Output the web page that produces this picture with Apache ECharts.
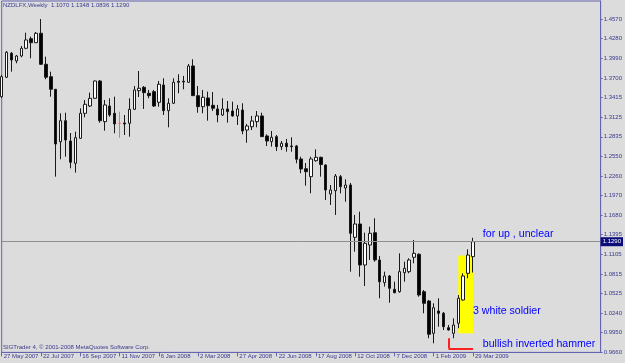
<!DOCTYPE html>
<html>
<head>
<meta charset="utf-8">
<script src="https://cdn.jsdelivr.net/npm/echarts@6.0.0/dist/echarts.min.js"></script>
<style>
html,body{margin:0;padding:0;background:#dcdcdc;}
#chart{width:625px;height:363px;}
</style>
</head>
<body>
<div id="chart"></div>
<script>
// ---- data (weekly bars from 27 May 2007) ----
const startDate = Date.UTC(2007, 4, 27);
const barCount = 97;
const padCount = 26; // empty chart-shift space on the right

const open = [
1.3426, 1.3712, 1.4065, 1.3952, 1.4025, 1.4139, 1.4280, 1.4221, 1.4360, 1.3903,
1.3720, 1.3535, 1.2763, 1.3072, 1.2773, 1.2445, 1.2813, 1.3181, 1.3289, 1.3402,
1.3657, 1.3058, 1.3289, 1.3181, 1.3034, 1.3039, 1.3034, 1.3240, 1.3514, 1.3564,
1.3476, 1.3500, 1.3343, 1.3598, 1.3220, 1.3329, 1.3653, 1.3653, 1.3638, 1.3878,
1.3441, 1.3279, 1.3407, 1.3299, 1.3245, 1.3156, 1.3245, 1.3215, 1.3142, 1.3230,
1.2935, 1.2984, 1.3058, 1.3142, 1.2847, 1.2763, 1.2837, 1.2690, 1.2740, 1.2700,
1.2700, 1.2508, 1.2365, 1.2248, 1.2483, 1.2533, 1.2420, 1.1993, 1.2042, 1.2248,
1.2081, 1.2125, 1.1355, 1.1551, 1.0947, 1.1242, 1.1423, 1.1021, 1.0687, 1.0785,
1.0589, 1.0554, 1.0834, 1.0849, 1.1061, 1.1105, 1.0554, 1.0417, 0.9941, 1.0270,
1.0236, 1.0024, 0.9941, 1.0089, 1.0432, 1.0825, 1.1070
];
const high = [
1.3745, 1.4099, 1.4084, 1.4040, 1.4173, 1.4368, 1.4310, 1.4379, 1.4570, 1.4015,
1.3794, 1.3539, 1.3181, 1.3190, 1.2891, 1.2910, 1.3255, 1.3377, 1.3485, 1.3664,
1.3672, 1.3377, 1.3402, 1.3426, 1.3205, 1.3156, 1.3402, 1.3583, 1.3804, 1.3583,
1.3525, 1.3525, 1.3657, 1.3697, 1.3402, 1.3697, 1.3756, 1.3731, 1.3907, 1.3977,
1.3583, 1.3525, 1.3500, 1.3495, 1.3304, 1.3402, 1.3363, 1.3352, 1.3304, 1.3329,
1.3024, 1.3142, 1.3215, 1.3190, 1.2872, 1.2921, 1.2862, 1.2773, 1.2803, 1.2828,
1.2715, 1.2542, 1.2449, 1.2542, 1.2651, 1.2542, 1.2430, 1.2125, 1.2287, 1.2273,
1.2209, 1.2155, 1.1684, 1.1732, 1.1423, 1.1511, 1.1635, 1.1080, 1.0849, 1.0800,
1.0701, 1.1119, 1.0996, 1.1046, 1.1315, 1.1119, 1.0579, 1.0432, 1.0383, 1.0457,
1.0255, 1.0064, 1.0162, 1.0505, 1.0825, 1.1178, 1.1348
];
const low = [
1.3407, 1.3701, 1.3794, 1.3918, 1.4006, 1.4124, 1.3991, 1.4217, 1.3893, 1.3682,
1.3426, 1.2248, 1.2504, 1.2542, 1.2371, 1.2307, 1.2803, 1.3122, 1.3274, 1.3392,
1.3043, 1.2925, 1.3131, 1.2887, 1.2822, 1.2862, 1.2837, 1.3230, 1.3421, 1.3245,
1.3402, 1.3274, 1.3279, 1.3156, 1.2975, 1.3318, 1.3476, 1.3535, 1.3628, 1.3436,
1.3190, 1.3181, 1.3072, 1.3215, 1.3049, 1.3142, 1.3043, 1.3131, 1.3009, 1.2872,
1.2748, 1.2935, 1.2975, 1.2832, 1.2700, 1.2690, 1.2626, 1.2641, 1.2616, 1.2616,
1.2445, 1.2298, 1.2115, 1.2003, 1.2469, 1.2248, 1.1905, 1.1831, 1.1684, 1.2003,
1.1879, 1.0849, 1.1143, 1.0775, 1.0638, 1.1021, 1.0996, 1.0457, 1.0628, 1.0392,
1.0530, 1.0539, 1.0701, 1.0825, 1.0972, 1.0480, 1.0236, 0.9868, 0.9794, 1.0039,
0.9990, 0.9982, 0.9868, 1.0015, 1.0424, 1.0751, 1.0836
];
const close = [
1.3720, 1.4080, 1.3966, 1.4025, 1.4139, 1.4261, 1.4221, 1.4360, 1.3903, 1.3712,
1.3535, 1.2729, 1.3072, 1.2788, 1.2460, 1.2822, 1.3181, 1.3314, 1.3402, 1.3657,
1.3072, 1.3304, 1.3156, 1.3024, 1.3034, 1.3024, 1.3240, 1.3525, 1.3550, 1.3485,
1.3441, 1.3289, 1.3609, 1.3220, 1.3329, 1.3638, 1.3638, 1.3642, 1.3878, 1.3441,
1.3279, 1.3417, 1.3293, 1.3255, 1.3156, 1.3245, 1.3205, 1.3142, 1.3245, 1.2921,
1.2994, 1.3068, 1.3142, 1.2837, 1.2773, 1.2828, 1.2690, 1.2740, 1.2690, 1.2690,
1.2504, 1.2361, 1.2321, 1.2508, 1.2533, 1.2427, 1.2052, 1.2052, 1.2258, 1.2100,
1.2125, 1.1414, 1.1551, 1.0947, 1.1267, 1.1414, 1.1021, 1.0701, 1.0785, 1.0604,
1.0539, 1.0849, 1.0898, 1.1021, 1.1119, 1.0505, 1.0383, 0.9927, 1.0318, 1.0236,
1.0039, 0.9990, 1.0064, 1.0457, 1.0785, 1.1094, 1.1290
];
const redBars = [24];
const priceTicks = [1.4570, 1.4280, 1.3990, 1.3700, 1.3415, 1.3125, 1.2835, 1.2550, 1.2260,
  1.1970, 1.1680, 1.1395, 1.1105, 1.0815, 1.0525, 1.0240, 0.9950, 0.9660];
const priceMin = 0.9660, priceMax = 1.4835;
const currentPrice = 1.1290;
const titleText = 'NZDLFX,Weekly  1.1070 1.1348 1.0836 1.1290';
const footerText = 'SIGTrader 4, \u00a9 2001-2008 MetaQuotes Software Corp.';
// annotations [barIndex, price, text]
const notes = [
  [97.6, 1.1404, 'for up , unclear'],
  [95.8, 1.0270, '3 white soldier'],
  [97.6, 0.9776, 'bullish inverted hammer']
];
const highlightBox = [93, 1.1087, 96, 0.9941];
const redMarker = [91, 0.9868, 96, 0.9720];

// ---- build ----
const months = ['Jan','Feb','Mar','Apr','May','Jun','Jul','Aug','Sep','Oct','Nov','Dec'];
const categories = [];
for (let i = 0; i < barCount; i++) {
  const d = new Date(startDate + i * 7 * 86400000);
  categories.push(d.getUTCDate() + ' ' + months[d.getUTCMonth()] + ' ' + d.getUTCFullYear());
}
for (let i = 0; i < padCount; i++) categories.push('');

const FONT = '"Liberation Sans", Arial, sans-serif';
const AXIS = '#6464b0';
const TXT = '#3a3a90';

const ohlc = open.map((o, i) => {
  const item = { value: [o, close[i], low[i], high[i]] };
  if (redBars.includes(i)) {
    item.itemStyle = { color: '#f06a6a', color0: '#f06a6a', borderColor: '#f06a6a', borderColor0: '#f06a6a' };
  }
  return item;
});

const showIdx = (idx, val) => val !== '' && idx % 8 === 0;

const chart = echarts.init(document.getElementById('chart'), null, { renderer: 'canvas' });
chart.setOption({
  animation: false,
  backgroundColor: '#dcdcdc',
  title: [
    { text: titleText, left: 3, top: 2, padding: 0,
      textStyle: { fontSize: 6, fontWeight: 'normal', color: TXT, fontFamily: FONT } },
    { text: footerText, left: 3, top: 344, padding: 0,
      textStyle: { fontSize: 6, fontWeight: 'normal', color: TXT, fontFamily: FONT } }
  ],
  grid: { left: 1.7, right: 23, top: 1, bottom: 10.6, show: true,
    borderColor: AXIS, borderWidth: 1, backgroundColor: 'transparent' },
  xAxis: {
    type: 'category', data: categories, boundaryGap: false,
    axisLine: { show: true, lineStyle: { color: AXIS } },
    axisTick: { show: true, interval: showIdx, length: 4, lineStyle: { color: AXIS } },
    axisLabel: { interval: showIdx, align: 'left', margin: 1, padding: [0, 0, 0, 2],
      fontSize: 6, color: TXT, fontFamily: FONT, hideOverlap: false },
    splitLine: { show: false }
  },
  yAxis: {
    type: 'value', position: 'right', min: priceMin, max: priceMax, scale: true,
    axisLine: { show: true, lineStyle: { color: AXIS } },
    axisTick: { show: true, length: 2, customValues: priceTicks, lineStyle: { color: AXIS } },
    axisLabel: { customValues: priceTicks, formatter: v => v.toFixed(4), margin: 3,
      fontSize: 6, color: TXT, fontFamily: FONT },
    splitLine: { show: false }
  },
  series: [{
    type: 'candlestick',
    data: ohlc,
    barWidth: 3,
    clip: true,
    itemStyle: { color: '#ffffff', color0: '#000000', borderColor: '#1a1a1a', borderColor0: '#1a1a1a', borderWidth: 1 },
    markArea: {
      silent: true,
      itemStyle: { color: '#ffff00', opacity: 1 },
      data: [[{ coord: [highlightBox[0], highlightBox[1]] }, { coord: [highlightBox[2], highlightBox[3]] }]]
    },
    markLine: {
      silent: true, symbol: ['none', 'none'], precision: 4,
      data: [
        { yAxis: currentPrice,
          lineStyle: { color: '#8f8f8f', width: 1, type: 'solid' },
          label: { show: true, position: 'end', distance: 0, formatter: currentPrice.toFixed(4),
            backgroundColor: '#0c0c7a', color: '#ffffff', fontSize: 6, fontFamily: FONT,
            padding: [2, 2, 1, 2] } },
        [ { coord: [redMarker[0], redMarker[1]], lineStyle: { color: '#ff2020', width: 2, type: 'solid' }, label: { show: false } },
          { coord: [redMarker[0], redMarker[3]] } ],
        [ { coord: [redMarker[0], redMarker[3]], lineStyle: { color: '#ff2020', width: 2, type: 'solid' }, label: { show: false } },
          { coord: [redMarker[2], redMarker[3]] } ]
      ]
    },
    markPoint: {
      silent: true, symbol: 'circle', symbolSize: 0,
      data: notes.map(n => ({
        coord: [n[0], n[1]],
        label: { show: true, position: 'right', distance: 0, formatter: n[2],
          color: '#0000ff', fontSize: 10.6, fontFamily: FONT }
      }))
    }
  }]
});
</script>
</body>
</html>
